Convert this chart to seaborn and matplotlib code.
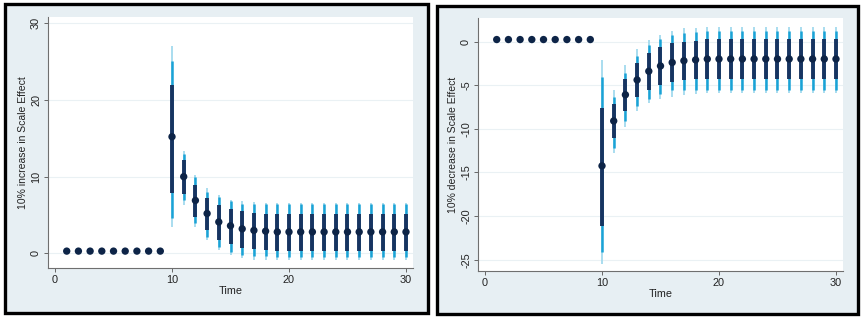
import numpy as np
import pandas as pd
import matplotlib
matplotlib.use("Agg")
import matplotlib.pyplot as plt
from matplotlib.patches import Rectangle
import seaborn as sns

sns.set_style("white")
plt.rcParams['font.family'] = ['Liberation Sans', 'DejaVu Sans']

time = list(range(1, 31))

# Left panel: 10% increase
inc_est = [0.3]*9 + [15.2, 10.0, 6.9, 5.2, 4.1, 3.6, 3.2, 3.0, 2.9] + [2.8]*12
inc_d_hi = [0.3]*9 + [22.0, 12.2, 8.9, 7.2, 6.3, 5.8, 5.5, 5.3, 5.2] + [5.2]*12
inc_d_lo = [0.3]*9 + [7.9, 7.8, 4.8, 3.0, 1.8, 1.2, 0.7, 0.6, 0.4] + [0.35]*12
inc_m_hi = [0.3]*9 + [25.1, 13.0, 10.0, 8.0, 7.4, 6.8, 6.5, 6.4, 6.4] + [6.4]*12
inc_m_lo = [0.3]*9 + [4.6, 7.0, 4.0, 2.2, 0.9, 0.2, -0.2, -0.35, -0.4] + [-0.45]*12
inc_l_hi = [0.3]*9 + [27.0, 13.3, 10.2, 8.5, 7.6, 7.0, 6.8, 6.7, 6.6] + [6.6]*12
inc_l_lo = [0.3]*9 + [3.5, 6.3, 3.5, 1.7, 0.4, -0.2, -0.65, -0.8, -0.9] + [-0.9]*12

# Right panel: 10% decrease
dec_est = [0.23]*9 + [-14.25, -9.1, -6.1, -4.4, -3.4, -2.8, -2.4, -2.2, -2.1] + [-2.0]*12
dec_d_hi = [0.23]*9 + [-7.6, -7.2, -4.3, -2.5, -1.3, -0.6, -0.2, 0.0, 0.1] + [0.25]*12
dec_d_lo = [0.23]*9 + [-21.1, -11.1, -8.0, -6.3, -5.6, -5.0, -4.6, -4.4, -4.3] + [-4.3]*12
dec_m_hi = [0.23]*9 + [-4.1, -6.4, -3.6, -1.65, -0.45, 0.3, 0.7, 1.0, 1.15] + [1.2]*12
dec_m_lo = [0.23]*9 + [-24.1, -12.2, -9.1, -7.4, -6.6, -6.0, -5.6, -5.6, -5.6] + [-5.5]*12
dec_l_hi = [0.23]*9 + [-2.1, -5.6, -2.7, -0.8, 0.2, 0.8, 1.2, 1.5, 1.6] + [1.7]*12
dec_l_lo = [0.23]*9 + [-25.5, -12.8, -9.8, -8.0, -7.1, -6.6, -6.3, -6.1, -6.0] + [-5.9]*12

ylabels = ["10% increase in Scale Effect", "10% decrease in Scale Effect"]

W, H = 865, 319
fig = plt.figure(figsize=(W/100, H/100), dpi=100)
fig.patch.set_facecolor("white")

frame_bg = "#e7eff3"
for (x0, y0, x1, y1) in [(5, 4, 428, 313), (437, 6, 858, 314)]:
    # shadow
    fig.add_artist(Rectangle(((x0+2)/W, (H-y1-2)/H), (x1-x0)/W, (y1-y0)/H,
                             transform=fig.transFigure, facecolor="#9a9a9a",
                             edgecolor="none", zorder=-3))
    fig.add_artist(Rectangle((x0/W, (H-y1)/H), (x1-x0)/W, (y1-y0)/H,
                             transform=fig.transFigure, facecolor=frame_bg,
                             edgecolor="black", lw=2.4, zorder=-2))

ax1 = fig.add_axes([48/W, (H-268)/H, 365/W, 251/H])
ax2 = fig.add_axes([478/W, (H-271)/H, 365/W, 253/H])

c_light = "#a3daee"
c_mid = "#1aa3d6"
c_dark = "#173461"
c_pt = "#0d2447"

def draw(ax, est, dlo, dhi, mlo, mhi, llo, lhi, ylabel, ylim, yticks):
    t = np.array(time)
    ax.set_facecolor("white")
    ax.vlines(t, llo, lhi, color=c_light, lw=1.3, zorder=2)
    ax.vlines(t, mlo, mhi, color=c_mid, lw=1.8, zorder=3)
    ax.vlines(t, dlo, dhi, color=c_dark, lw=2.8, zorder=4)
    df = pd.DataFrame({"Time": time, "est": est})
    sns.scatterplot(data=df, x="Time", y="est", ax=ax, color=c_pt, s=28,
                    edgecolor="none", zorder=5, legend=False)
    ax.set_xlim(-0.6, 30.6)
    ax.set_ylim(*ylim)
    ax.set_xticks([0, 10, 20, 30])
    ax.set_yticks(yticks)
    ax.set_yticklabels([str(v) for v in yticks], rotation=90, va="center")
    for v in yticks:
        ax.axhline(v, color="#eaf1f4", lw=0.8, zorder=1)
    ax.set_xlabel("Time", fontsize=7.8, labelpad=1, color="#222222")
    ax.set_ylabel(ylabel, fontsize=7.5, labelpad=2, color="#222222")
    ax.tick_params(axis="both", direction="out", length=3, width=0.7,
                   color="#666666", labelsize=7.8, labelcolor="#222222", pad=2)
    ax.tick_params(axis="x", bottom=True)
    ax.tick_params(axis="y", left=True)
    for s in ["top", "right"]:
        ax.spines[s].set_visible(False)
    for s in ["left", "bottom"]:
        ax.spines[s].set_color("#6f6f6f")
        ax.spines[s].set_linewidth(0.8)

draw(ax1, inc_est, inc_d_lo, inc_d_hi, inc_m_lo, inc_m_hi, inc_l_lo, inc_l_hi,
     ylabels[0], (-1.9, 30.8), [0, 10, 20, 30])
draw(ax2, dec_est, dec_d_lo, dec_d_hi, dec_m_lo, dec_m_hi, dec_l_lo, dec_l_hi,
     ylabels[1], (-26.3, 2.7), [0, -5, -10, -15, -20, -25])

fig.savefig("out.png", dpi=100)
